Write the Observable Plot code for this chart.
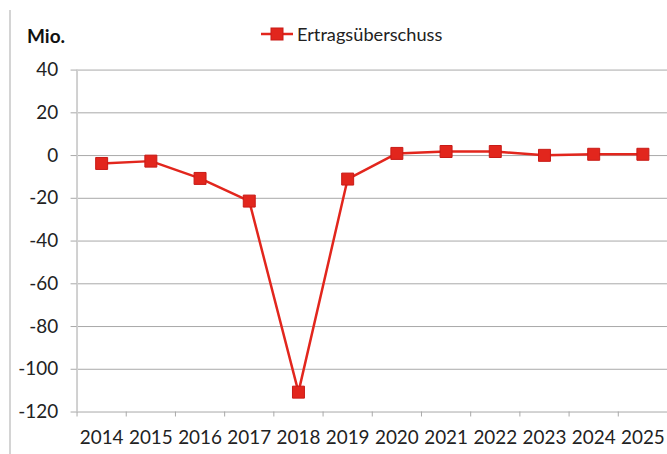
<!DOCTYPE html>
<html>
<head>
<meta charset="utf-8">
<script src="https://cdn.jsdelivr.net/npm/d3@7"></script>
<script src="https://cdn.jsdelivr.net/npm/@observablehq/plot@0.6"></script>
<style>
  html, body { margin: 0; padding: 0; background: #fff; overflow: hidden; }
  body { width: 667px; height: 454px; position: relative; font-family: Lato, "Open Sans", sans-serif; color: #222; }
  #frame { position: absolute; left: 9px; top: 10px; width: 0; height: 444px; border-left: 2px solid #d4d4d4; }
  #unit { position: absolute; left: 27px; top: 24px; font-size: 19px; font-weight: bold; color: #111; }
  #legend { position: absolute; left: 261px; top: 23px; display: flex; align-items: center; font-size: 18.2px; color: #222; }
  #legend svg { margin-right: 4px; }
  #chart { position: absolute; left: 0; top: 0; }
</style>
</head>
<body>
<div id="frame"></div>
<div id="unit">Mio.</div>
<div id="legend"><svg width="32" height="14"><line x1="0" x2="32" y1="7" y2="7" stroke="#e2261d" stroke-width="2.5"/><rect x="10" y="1" width="12" height="12" fill="#e2261d" stroke="#c81a16" stroke-width="1"/></svg><span>Ertragsüberschuss</span></div>
<div id="chart"></div>
<script>
const years = [2014, 2015, 2016, 2017, 2018, 2019, 2020, 2021, 2022, 2023, 2024, 2025];
const ertragsueberschuss = [-3.7, -2.6, -10.7, -21.3, -110.7, -11.0, 1.0, 1.9, 1.9, 0.1, 0.6, 0.6];
const yTicks = [40, 20, 0, -20, -40, -60, -80, -100, -120];
const seriesName = "Ertragsüberschuss";

const data = years.map((y, i) => ({year: y, value: ertragsueberschuss[i]}));
const boundaries = years.map(y => y - 0.5).concat([years[years.length - 1] + 0.5]);

const red = "#e2261d";
const plot = Plot.plot({
  width: 671,
  height: 454,
  marginLeft: 77,
  marginRight: 0,
  marginTop: 70,
  marginBottom: 40,
  style: {fontFamily: "Lato, 'Open Sans', sans-serif", fontSize: "19px", color: "#222", background: "transparent"},
  x: {domain: [years[0] - 0.5, years[years.length - 1] + 0.5], label: null},
  y: {domain: [-120, 40], label: null},
  marks: [
    Plot.ruleY(yTicks, {stroke: "#a8a8a8", strokeWidth: 1}),
    Plot.ruleX([years[0] - 0.5], {stroke: "#d0d0d0", strokeWidth: 2}),
    Plot.axisY({ticks: yTicks, tickFormat: d => String(d), tickSize: 6, tickPadding: 13, stroke: "#a8a8a8", fill: "#222", fontSize: 19, label: null}),
    Plot.axisX({ticks: boundaries, tickFormat: () => "", tickSize: 5, stroke: "#a8a8a8", label: null}),
    Plot.axisX({ticks: years, tickFormat: d => String(d), tickSize: 0, tickPadding: 19, fill: "#222", fontSize: 19, label: null}),
    Plot.line(data, {x: "year", y: "value", stroke: red, strokeWidth: 2.5}),
    Plot.dot(data, {x: "year", y: "value", symbol: "square", r: 6.8, fill: red, stroke: "#c81a16", strokeWidth: 1})
  ]
});
document.getElementById("chart").appendChild(plot);
</script>
</body>
</html>
